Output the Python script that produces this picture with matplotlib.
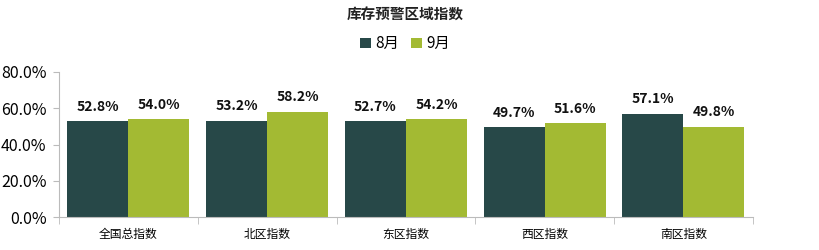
import matplotlib
matplotlib.use("Agg")
import matplotlib.pyplot as plt
import numpy as np
from matplotlib.ticker import FuncFormatter

plt.rcParams['font.family'] = ['Noto Sans CJK SC', 'DejaVu Sans']

categories = ["全国总指数", "北区指数", "东区指数", "西区指数", "南区指数"]
aug = [52.8, 53.2, 52.7, 49.7, 57.1]
sep = [54.0, 58.2, 54.2, 51.6, 49.8]
series_names = ["8月", "9月"]

C_AUG = "#274848"
C_SEP = "#A3BA33"

fig = plt.figure(figsize=(8.2, 2.5), dpi=100)
ax = fig.add_axes([0.072, 0.132, 0.846, 0.58])

x = np.arange(len(categories))
w = 0.44
b1 = ax.bar(x - w / 2, aug, w, color=C_AUG, label=series_names[0])
b2 = ax.bar(x + w / 2, sep, w, color=C_SEP, label=series_names[1])

for bars, vals in ((b1, aug), (b2, sep)):
    for r, v in zip(bars, vals):
        ax.text(r.get_x() + r.get_width() / 2, v + 4, f"{v:.1f}%",
                ha="center", va="bottom", fontsize=10, fontweight="bold",
                color="#111111")

ax.set_xlim(-0.5, len(categories) - 0.5)
ax.set_ylim(0, 80)
ax.set_yticks([0, 20, 40, 60, 80])
ax.yaxis.set_major_formatter(FuncFormatter(lambda v, p: f"{v:.1f}%"))
ax.set_xticks(x)
ax.set_xticklabels(categories, fontsize=8.5)
ax.set_xticks(np.arange(-0.5, len(categories)), minor=True)
ax.tick_params(axis="x", which="major", length=0, pad=8)
ax.tick_params(axis="x", which="minor", length=5, color="#bbbbbb")
ax.tick_params(axis="y", labelsize=11.5, length=4, color="#bbbbbb", pad=5)

for s in ("top", "right"):
    ax.spines[s].set_visible(False)
for s in ("left", "bottom"):
    ax.spines[s].set_color("#bbbbbb")

fig.text(0.494, 0.94, "库存预警区域指数", ha="center", va="center",
         fontsize=10.5, fontweight="bold", color="#222222")
fig.legend(handles=[b1, b2], loc="center", bbox_to_anchor=(0.494, 0.825),
           ncol=2, frameon=False, fontsize=11, handlelength=0.7,
           handleheight=0.7, handletextpad=0.3, columnspacing=0.8)

fig.savefig("out.png", dpi=100)
